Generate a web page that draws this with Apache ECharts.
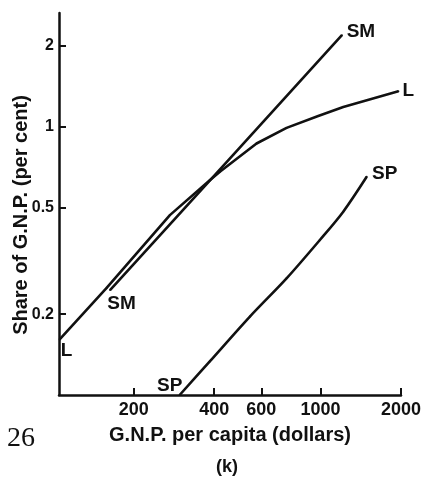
<!DOCTYPE html>
<html>
<head>
<meta charset="utf-8">
<script src="https://cdn.jsdelivr.net/npm/echarts@6/dist/echarts.min.js"></script>
<style>
  html, body { margin: 0; padding: 0; background: #fff; }
  #chart { width: 427px; height: 482px; }
</style>
</head>
<body>
<div id="chart"></div>
<script>
// values
const xTicks = [200, 400, 600, 1000, 2000]
const yTicks = [0.2, 0.5, 1, 2]

const lGnp = [105.6, 158, 273, 385, 420, 576, 746, 980, 1216, 1955]
const lShare = [0.161, 0.25, 0.468, 0.631, 0.679, 0.865, 0.989, 1.096, 1.184, 1.353]

const smGnp = [163, 471, 1202]
const smShare = [0.246, 0.784, 2.19]

const spGnp = [297, 385, 544, 746, 994, 1216, 1488]
const spShare = [0.1, 0.1334, 0.196, 0.272, 0.378, 0.482, 0.65]

const ink = '#111'
const sans = 'Liberation Sans'

// label the two ends of a curve with its name
function buildData(xs, ys, name, startOffset, endOffset) {
  return xs.map((x, i) => {
    const item = { value: [x, ys[i]] }
    const off = i === 0 ? startOffset : (i === xs.length - 1 ? endOffset : null)
    if (off) {
      item.label = {
        show: true,
        position: 'inside',
        offset: off,
        formatter: name,
        color: ink,
        fontFamily: sans,
        fontWeight: 'bold',
        fontSize: 19
      }
    }
    return item
  })
}

function curve(data, smooth) {
  return {
    type: 'line',
    data: data,
    smooth: smooth || false,
    symbol: 'circle',
    symbolSize: 2,
    showSymbol: true,
    itemStyle: { color: ink },
    lineStyle: { color: ink, width: 2.6 },
    silent: true,
    emphasis: { disabled: true }
  }
}

const chart = echarts.init(document.getElementById('chart'))
chart.setOption({
  animation: false,
  backgroundColor: '#fff',
  grid: { left: 59, right: 26, top: 13, bottom: 87, outerBoundsMode: 'none' },
  xAxis: {
    type: 'log',
    logBase: 10,
    min: 105,
    max: 2000,
    name: 'G.N.P. per capita (dollars)',
    nameLocation: 'middle',
    nameGap: 30,
    nameMoveOverlap: false,
    nameTextStyle: { color: ink, fontFamily: sans, fontWeight: 'bold', fontSize: 20 },
    axisLine: { lineStyle: { color: ink, width: 2.5 } },
    axisTick: { inside: true, length: 7, customValues: xTicks, lineStyle: { color: ink, width: 2 } },
    axisLabel: {
      customValues: xTicks,
      formatter: v => String(v),
      color: ink,
      fontFamily: sans,
      fontWeight: 'bold',
      fontSize: 18,
      margin: 6
    },
    splitLine: { show: false },
    minorTick: { show: false }
  },
  yAxis: {
    type: 'log',
    logBase: 10,
    min: 0.1,
    max: 2.65,
    name: 'Share of G.N.P. (per cent)',
    nameLocation: 'middle',
    nameGap: 28,
    nameMoveOverlap: false,
    nameTextStyle: { color: ink, fontFamily: sans, fontWeight: 'bold', fontSize: 20, padding: [0, 22, 0, 0] },
    axisLine: { lineStyle: { color: ink, width: 2.5 } },
    axisTick: { inside: true, length: 7, customValues: yTicks, lineStyle: { color: ink, width: 2 } },
    axisLabel: {
      customValues: yTicks,
      formatter: v => String(v),
      color: ink,
      fontFamily: sans,
      fontWeight: 'bold',
      fontSize: 16,
      margin: 5
    },
    splitLine: { show: false },
    minorTick: { show: false }
  },
  graphic: [
    {
      type: 'text',
      left: 7,
      top: 425,
      style: { text: '26', fill: ink, font: '28px "Liberation Serif"' }
    },
    {
      type: 'text',
      left: 216,
      top: 458,
      style: { text: '(k)', fill: ink, font: 'bold 18px "Liberation Sans"' }
    }
  ],
  series: [
    curve(buildData(lGnp, lShare, 'L', [7, 11], [10, -1])),
    curve(buildData(smGnp, smShare, 'SM', [11.5, 14], [19, -3])),
    curve(buildData(spGnp, spShare, 'SP', [-10, -9.5], [18, -3]), 0.3)
  ]
})
</script>
</body>
</html>
